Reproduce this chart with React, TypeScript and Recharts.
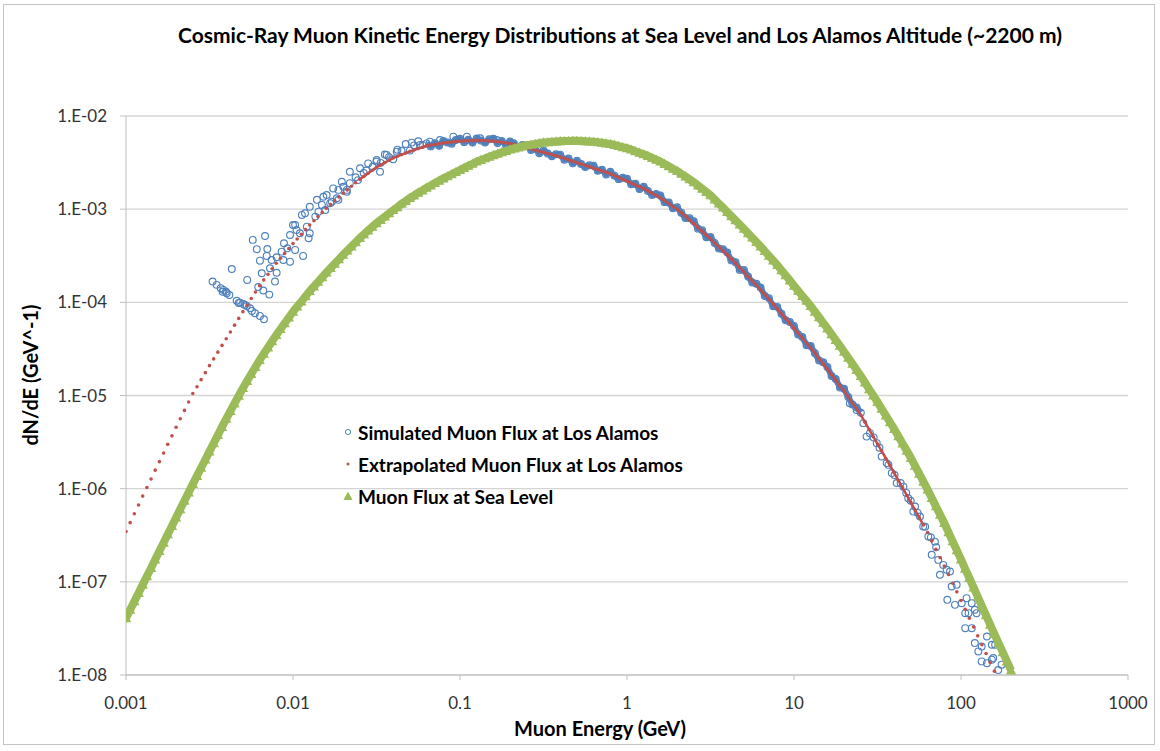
import React from 'react';
import { ScatterChart, Scatter, XAxis, YAxis, CartesianGrid } from 'recharts';

// log-spaced energy grid (GeV), shared by the extrapolated and sea-level series
const energyGrid = [
  0.001, 0.001059, 0.001122, 0.001189, 0.001259, 0.001334, 0.001413, 0.001496, 0.001585, 0.001679,
  0.001778, 0.001884, 0.001995, 0.002113, 0.002239, 0.002371, 0.002512, 0.002661, 0.002818, 0.002985,
  0.003162, 0.00335, 0.003548, 0.003758, 0.003981, 0.004217, 0.004467, 0.004732, 0.005012, 0.005309,
  0.005623, 0.005957, 0.00631, 0.006683, 0.007079, 0.007499, 0.007943, 0.008414, 0.008913, 0.009441,
  0.01, 0.01059, 0.01122, 0.01189, 0.01259, 0.01334, 0.01413, 0.01496, 0.01585, 0.01679,
  0.01778, 0.01884, 0.01995, 0.02113, 0.02239, 0.02371, 0.02512, 0.02661, 0.02818, 0.02985,
  0.03162, 0.0335, 0.03548, 0.03758, 0.03981, 0.04217, 0.04467, 0.04732, 0.05012, 0.05309,
  0.05623, 0.05957, 0.0631, 0.06683, 0.07079, 0.07499, 0.07943, 0.08414, 0.08913, 0.09441,
  0.1, 0.1059, 0.1122, 0.1189, 0.1259, 0.1334, 0.1413, 0.1496, 0.1585, 0.1679,
  0.1778, 0.1884, 0.1995, 0.2113, 0.2239, 0.2371, 0.2512, 0.2661, 0.2818, 0.2985,
  0.3162, 0.335, 0.3548, 0.3758, 0.3981, 0.4217, 0.4467, 0.4732, 0.5012, 0.5309,
  0.5623, 0.5957, 0.631, 0.6683, 0.7079, 0.7499, 0.7943, 0.8414, 0.8913, 0.9441,
  1, 1.059, 1.122, 1.189, 1.259, 1.334, 1.413, 1.496, 1.585, 1.679,
  1.778, 1.884, 1.995, 2.113, 2.239, 2.371, 2.512, 2.661, 2.818, 2.985,
  3.162, 3.35, 3.548, 3.758, 3.981, 4.217, 4.467, 4.732, 5.012, 5.309,
  5.623, 5.957, 6.31, 6.683, 7.079, 7.499, 7.943, 8.414, 8.913, 9.441,
  10, 10.59, 11.22, 11.89, 12.59, 13.34, 14.13, 14.96, 15.85, 16.79,
  17.78, 18.84, 19.95, 21.13, 22.39, 23.71, 25.12, 26.61, 28.18, 29.85,
  31.62, 33.5, 35.48, 37.58, 39.81, 42.17, 44.67, 47.32, 50.12, 53.09,
  56.23, 59.57, 63.1, 66.83, 70.79, 74.99, 79.43, 84.14, 89.13, 94.41,
  100, 105.9, 112.2, 118.9, 125.9, 133.4, 141.3, 149.6, 158.5, 167.9,
  177.8, 188.4, 199.5,
];

const extrapolatedFlux = [
  3.47e-7, 4.32e-7, 5.37e-7, 6.68e-7, 8.32e-7, 1.03e-6, 1.27e-6, 1.58e-6, 1.95e-6, 2.41e-6,
  2.99e-6, 3.69e-6, 4.57e-6, 5.62e-6, 6.92e-6, 8.51e-6, 1.05e-5, 1.24e-5, 1.48e-5, 1.76e-5,
  2.09e-5, 2.47e-5, 2.92e-5, 3.45e-5, 4.07e-5, 4.81e-5, 5.69e-5, 6.72e-5, 7.94e-5, 9.33e-5,
  1.1e-4, 1.29e-4, 1.51e-4, 1.74e-4, 2.0e-4, 2.29e-4, 2.63e-4, 2.97e-4, 3.35e-4, 3.78e-4,
  4.27e-4, 4.79e-4, 5.37e-4, 6.03e-4, 6.76e-4, 7.5e-4, 8.32e-4, 9.23e-4, 1.02e-3, 1.12e-3,
  1.23e-3, 1.35e-3, 1.48e-3, 1.61e-3, 1.76e-3, 1.92e-3, 2.09e-3, 2.25e-3, 2.43e-3, 2.62e-3,
  2.82e-3, 2.99e-3, 3.16e-3, 3.35e-3, 3.55e-3, 3.69e-3, 3.85e-3, 4.0e-3, 4.17e-3, 4.32e-3,
  4.47e-3, 4.62e-3, 4.79e-3, 4.87e-3, 4.95e-3, 5.04e-3, 5.13e-3, 5.19e-3, 5.25e-3, 5.31e-3,
  5.37e-3, 5.4e-3, 5.42e-3, 5.45e-3, 5.47e-3, 5.45e-3, 5.42e-3, 5.4e-3, 5.37e-3, 5.3e-3,
  5.22e-3, 5.14e-3, 5.07e-3, 4.94e-3, 4.81e-3, 4.69e-3, 4.57e-3, 4.44e-3, 4.32e-3, 4.19e-3,
  4.07e-3, 3.96e-3, 3.85e-3, 3.74e-3, 3.63e-3, 3.51e-3, 3.39e-3, 3.27e-3, 3.16e-3, 3.05e-3,
  2.95e-3, 2.85e-3, 2.75e-3, 2.66e-3, 2.57e-3, 2.48e-3, 2.4e-3, 2.29e-3, 2.19e-3, 2.09e-3,
  2.0e-3, 1.91e-3, 1.82e-3, 1.74e-3, 1.66e-3, 1.57e-3, 1.48e-3, 1.4e-3, 1.32e-3, 1.23e-3,
  1.15e-3, 1.07e-3, 1.0e-3, 9.14e-4, 8.37e-4, 7.66e-4, 7.0e-4, 6.37e-4, 5.79e-4, 5.26e-4,
  4.79e-4, 4.34e-4, 3.94e-4, 3.57e-4, 3.24e-4, 2.91e-4, 2.62e-4, 2.35e-4, 2.11e-4, 1.89e-4,
  1.7e-4, 1.52e-4, 1.36e-4, 1.21e-4, 1.08e-4, 9.57e-5, 8.51e-5, 7.54e-5, 6.68e-5, 5.92e-5,
  5.25e-5, 4.65e-5, 4.12e-5, 3.65e-5, 3.24e-5, 2.84e-5, 2.48e-5, 2.18e-5, 1.91e-5, 1.67e-5,
  1.46e-5, 1.28e-5, 1.12e-5, 9.66e-6, 8.32e-6, 7.16e-6, 6.17e-6, 5.16e-6, 4.32e-6, 3.61e-6,
  3.02e-6, 2.53e-6, 2.11e-6, 1.77e-6, 1.48e-6, 1.23e-6, 1.02e-6, 8.51e-7, 7.08e-7, 5.89e-7,
  4.9e-7, 4.07e-7, 3.39e-7, 2.75e-7, 2.24e-7, 1.82e-7, 1.48e-7, 1.2e-7, 9.66e-8, 7.81e-8,
  6.31e-8, 5.07e-8, 4.07e-8, 3.27e-8, 2.63e-8, 2.11e-8, 1.7e-8, 1.36e-8, 1.1e-8,
];

const seaLevelFlux = [
  4.07e-8, 5.01e-8, 6.17e-8, 7.59e-8, 9.33e-8, 1.15e-7, 1.41e-7, 1.74e-7, 2.14e-7, 2.63e-7,
  3.24e-7, 3.98e-7, 4.9e-7, 6.03e-7, 7.41e-7, 9.12e-7, 1.12e-6, 1.37e-6, 1.68e-6, 2.05e-6,
  2.51e-6, 3.07e-6, 3.76e-6, 4.6e-6, 5.62e-6, 6.8e-6, 8.22e-6, 9.94e-6, 1.2e-5, 1.43e-5,
  1.7e-5, 2.02e-5, 2.4e-5, 2.8e-5, 3.27e-5, 3.82e-5, 4.47e-5, 5.16e-5, 5.96e-5, 6.88e-5,
  7.94e-5, 9.02e-5, 1.02e-4, 1.16e-4, 1.32e-4, 1.48e-4, 1.66e-4, 1.86e-4, 2.09e-4, 2.33e-4,
  2.6e-4, 2.9e-4, 3.24e-4, 3.59e-4, 3.98e-4, 4.42e-4, 4.9e-4, 5.37e-4, 5.89e-4, 6.46e-4,
  7.08e-4, 7.67e-4, 8.32e-4, 9.02e-4, 9.77e-4, 1.05e-3, 1.14e-3, 1.22e-3, 1.32e-3, 1.4e-3,
  1.5e-3, 1.59e-3, 1.7e-3, 1.8e-3, 1.91e-3, 2.02e-3, 2.14e-3, 2.25e-3, 2.37e-3, 2.5e-3,
  2.63e-3, 2.77e-3, 2.92e-3, 3.07e-3, 3.24e-3, 3.37e-3, 3.51e-3, 3.65e-3, 3.8e-3, 3.94e-3,
  4.07e-3, 4.22e-3, 4.37e-3, 4.48e-3, 4.6e-3, 4.72e-3, 4.84e-3, 4.93e-3, 5.01e-3, 5.1e-3,
  5.19e-3, 5.24e-3, 5.28e-3, 5.32e-3, 5.37e-3, 5.38e-3, 5.4e-3, 5.42e-3, 5.43e-3, 5.4e-3,
  5.37e-3, 5.34e-3, 5.31e-3, 5.24e-3, 5.16e-3, 5.08e-3, 5.01e-3, 4.89e-3, 4.76e-3, 4.63e-3,
  4.52e-3, 4.36e-3, 4.19e-3, 4.04e-3, 3.89e-3, 3.72e-3, 3.55e-3, 3.39e-3, 3.24e-3, 3.05e-3,
  2.88e-3, 2.72e-3, 2.57e-3, 2.4e-3, 2.24e-3, 2.09e-3, 1.95e-3, 1.8e-3, 1.66e-3, 1.53e-3,
  1.41e-3, 1.27e-3, 1.15e-3, 1.04e-3, 9.33e-4, 8.41e-4, 7.59e-4, 6.84e-4, 6.17e-4, 5.53e-4,
  4.95e-4, 4.44e-4, 3.98e-4, 3.55e-4, 3.16e-4, 2.82e-4, 2.51e-4, 2.21e-4, 1.95e-4, 1.72e-4,
  1.51e-4, 1.33e-4, 1.17e-4, 1.04e-4, 9.12e-5, 7.94e-5, 6.92e-5, 6.03e-5, 5.25e-5, 4.54e-5,
  3.94e-5, 3.41e-5, 2.95e-5, 2.54e-5, 2.19e-5, 1.88e-5, 1.62e-5, 1.38e-5, 1.17e-5, 1.0e-5,
  8.51e-6, 7.2e-6, 6.1e-6, 5.16e-6, 4.37e-6, 3.65e-6, 3.05e-6, 2.56e-6, 2.14e-6, 1.76e-6,
  1.45e-6, 1.19e-6, 9.77e-7, 7.94e-7, 6.46e-7, 5.25e-7, 4.27e-7, 3.41e-7, 2.72e-7, 2.18e-7,
  1.74e-7, 1.38e-7, 1.1e-7, 8.71e-8, 6.92e-8, 5.5e-8, 4.37e-8, 3.47e-8, 2.75e-8, 2.2e-8,
  1.76e-8, 1.4e-8, 1.12e-8,
];

// simulated flux along the well-sampled part, at energyGrid[60..176]
const BAND_START = 60;
const simulatedBandFlux = [
  3.24e-3, 3.14e-3, 3.86e-3, 3.62e-3, 3.44e-3, 4.35e-3, 4.24e-3, 5.0e-3, 4.25e-3, 4.84e-3,
  5.36e-3, 4.9e-3, 5.08e-3, 4.72e-3, 5.1e-3, 4.79e-3, 5.39e-3, 5.19e-3, 5.04e-3, 5.52e-3,
  5.69e-3, 5.24e-3, 5.58e-3, 5.18e-3, 5.74e-3, 5.45e-3, 5.2e-3, 5.62e-3, 5.69e-3, 5.14e-3,
  5.38e-3, 4.88e-3, 5.32e-3, 4.94e-3, 4.62e-3, 4.88e-3, 4.84e-3, 4.31e-3, 4.45e-3, 3.98e-3,
  4.27e-3, 3.96e-3, 3.7e-3, 3.89e-3, 3.85e-3, 3.4e-3, 3.49e-3, 3.11e-3, 3.32e-3, 3.05e-3,
  2.83e-3, 2.96e-3, 2.92e-3, 2.58e-3, 2.65e-3, 2.36e-3, 2.52e-3, 2.29e-3, 2.1e-3, 2.17e-3,
  2.12e-3, 1.85e-3, 1.87e-3, 1.65e-3, 1.74e-3, 1.57e-3, 1.42e-3, 1.46e-3, 1.4e-3, 1.19e-3,
  1.18e-3, 1.02e-3, 1.05e-3, 9.14e-4, 8.04e-4, 7.97e-4, 7.42e-4, 6.18e-4, 5.96e-4, 5.0e-4,
  5.03e-4, 4.34e-4, 3.78e-4, 3.71e-4, 3.43e-4, 2.82e-4, 2.7e-4, 2.23e-4, 2.22e-4, 1.89e-4,
  1.63e-4, 1.58e-4, 1.44e-4, 1.17e-4, 1.11e-4, 9.09e-5, 8.94e-5, 7.54e-5, 6.41e-5, 6.16e-5,
  5.57e-5, 4.51e-5, 4.24e-5, 3.47e-5, 3.4e-5, 2.84e-5, 2.38e-5, 2.27e-5, 2.02e-5, 1.62e-5,
  1.5e-5, 1.22e-5, 1.18e-5, 9.66e-6, 7.99e-6, 7.45e-6, 6.54e-6,
];

// scattered simulated points at low and high energy
const simulatedEnergy = [
  0.0033, 0.00349, 0.00369, 0.00379, 0.00383, 0.00397, 0.00401, 0.00416, 0.0046, 0.00473,
  0.00482, 0.00504, 0.00516, 0.00528, 0.00553, 0.00568, 0.00592, 0.00634, 0.0067,
  0.0043, 0.00532, 0.00574, 0.0068, 0.00607, 0.00702, 0.00634, 0.00696, 0.00619, 0.00664,
  0.00721, 0.0065, 0.00728, 0.00798, 0.0078, 0.00745, 0.00798, 0.00855, 0.00883, 0.00925,
  0.0096, 0.0103, 0.0115, 0.00875,
  0.0096, 0.0103, 0.0105, 0.011, 0.0121, 0.0126, 0.0124, 0.01,
  0.0113, 0.0118, 0.0126, 0.0136, 0.0142, 0.0149, 0.0156, 0.0159, 0.0171, 0.0183,
  0.0187, 0.02, 0.021, 0.0219,
  0.0139, 0.0152, 0.0174, 0.0196, 0.0219, 0.0252, 0.0282, 0.0317, 0.0364, 0.0418,
  0.0514, 0.0576, 0.0661, 0.0759, 0.0912, 0.11, 0.132, 0.166, 0.209,
  0.0167, 0.0187, 0.021, 0.0332, 0.0237, 0.0245, 0.0265, 0.0275, 0.03,
  21.6, 23.7, 26.0, 28.5, 27.2, 31.3, 33.5, 35.9, 38.5, 41.2,
  45.2, 48.3, 53.1, 51.8, 56.8, 59.4, 63.7, 69.8, 66.8, 73.1,
  78.3, 74.8, 82.0, 85.9, 87.9, 94.2, 82.8, 92.0, 101, 108,
  116, 121, 106, 111, 124, 106, 116, 143, 121, 133,
  127, 153, 160, 133, 143, 153, 156, 175, 167,
  40.0, 43.5, 47.0, 50.0, 55.0, 61.0, 66.0, 71.0, 30.0, 32.5, 36.8,
];

const simulatedFlux = [
  1.67e-4, 1.54e-4, 1.42e-4, 1.3e-4, 1.36e-4, 1.3e-4, 1.25e-4, 1.2e-4, 1.04e-4, 9.86e-5,
  9.93e-5, 9.62e-5, 9.38e-5, 9.14e-5, 8.65e-5, 8.09e-5, 7.64e-5, 7.15e-5, 6.59e-5,
  2.28e-4, 1.74e-4, 4.68e-4, 5.15e-4, 3.72e-4, 3.74e-4, 2.8e-4, 3.15e-4, 1.46e-4, 1.34e-4,
  1.21e-4, 2.05e-4, 2.32e-4, 2.08e-4, 1.67e-4, 2.85e-4, 3.05e-4, 3.5e-4, 4.31e-4, 3.8e-4,
  2.73e-4, 3.65e-4, 3.15e-4, 2.85e-4,
  5.28e-4, 6.76e-4, 5.98e-4, 5.51e-4, 6.49e-4, 5.51e-4, 4.88e-4, 6.76e-4,
  8.67e-4, 9.04e-4, 1.06e-3, 8.32e-4, 9.4e-4, 1.11e-3, 9.8e-4, 1.42e-3, 1.2e-3, 1.31e-3,
  1.61e-3, 1.74e-3, 1.54e-3, 1.9e-3,
  1.26e-3, 1.36e-3, 1.67e-3, 1.97e-3, 2.52e-3, 2.75e-3, 3.1e-3, 3.37e-3, 3.82e-3, 4.14e-3,
  5.18e-3, 4.89e-3, 5.3e-3, 5.52e-3, 6.0e-3, 6.0e-3, 5.77e-3, 5.52e-3, 5.09e-3,
  1.16e-3, 1.26e-3, 1.61e-3, 2.52e-3, 2.2e-3, 2.05e-3, 2.45e-3, 2.6e-3, 2.85e-3,
  8.26e-6, 7.0e-6, 5.05e-6, 3.94e-6, 3.62e-6, 3.08e-6, 2.21e-6, 1.88e-6, 1.47e-6, 1.15e-6,
  1.05e-6, 7.91e-7, 6.43e-7, 5.68e-7, 5.02e-7, 3.92e-7, 3.06e-7, 2.7e-7, 1.95e-7, 1.72e-7,
  1.52e-7, 1.19e-7, 1.35e-7, 1.29e-7, 8.91e-8, 9.29e-8, 6.41e-8, 5.66e-8, 5.9e-8, 6.68e-8,
  5.9e-8, 5.01e-8, 4.61e-8, 4.61e-8, 4.61e-8, 3.18e-8, 3.18e-8, 2.59e-8, 2.2e-8, 2.02e-8,
  1.79e-8, 2.11e-8, 2.11e-8, 1.4e-8, 1.34e-8, 1.46e-8, 1.52e-8, 1.29e-8, 1.13e-8,
  1.4e-6, 1.15e-6, 9.0e-7, 7.4e-7, 5.5e-7, 3.9e-7, 3.0e-7, 2.35e-7, 3.55e-6, 2.75e-6, 1.8e-6,
];

const xTicks = [0.001, 0.01, 0.1, 1, 10, 100, 1000];
const yTicks = [1e-8, 1e-7, 1e-6, 1e-5, 1e-4, 1e-3, 1e-2];

const BLUE = '#4F81BD';
const RED = '#C0504D';
const GREEN = '#9BBB59';
const FONT = 'Lato, "Open Sans", sans-serif';

const bandData = simulatedBandFlux.map((y, i) => ({ x: energyGrid[BAND_START + i], y }));
const simulatedData = [...bandData, ...simulatedFlux.map((y, i) => ({ x: simulatedEnergy[i], y }))];
const extrapolatedData = extrapolatedFlux.map((y, i) => ({ x: energyGrid[i], y }));
const seaLevelData = seaLevelFlux.map((y, i) => ({ x: energyGrid[i], y }));

// the densely sampled stretches read as continuous bands in the original
const bandTrace = bandData.slice(12);
const extrapolatedTrace = extrapolatedData.slice(56, 192);

const formatY = (v: number) => {
  const e = Math.round(Math.log10(v));
  return `1.E${e < 0 ? '-' : '+'}${String(Math.abs(e)).padStart(2, '0')}`;
};

const OpenCircle = (p: any) => (
  <circle cx={p.cx} cy={p.cy} r={3.4} fill="none" stroke={BLUE} strokeWidth={1.15} />
);
const RedDot = (p: any) => <circle cx={p.cx} cy={p.cy} r={1.8} fill={RED} />;
const Triangle = (p: any) => (
  <path
    d={`M${p.cx},${p.cy - 5.2}L${p.cx + 5.2},${p.cy + 4}L${p.cx - 5.2},${p.cy + 4}Z`}
    fill={GREEN}
  />
);
const NoMark = () => <g />;

const legendItems = [
  { label: 'Simulated Muon Flux at Los Alamos', kind: 'circle' },
  { label: 'Extrapolated Muon Flux at Los Alamos', kind: 'dot' },
  { label: 'Muon Flux at Sea Level', kind: 'triangle' },
];

function LegendMarker({ kind }: { kind: string }) {
  return (
    <svg width={12} height={12} style={{ marginRight: 4 }}>
      {kind === 'circle' && <circle cx={6} cy={6} r={2.6} fill="none" stroke={BLUE} strokeWidth={1} />}
      {kind === 'dot' && <circle cx={6} cy={6} r={1.5} fill={RED} />}
      {kind === 'triangle' && <path d="M6,1.5L10.5,10L1.5,10Z" fill={GREEN} />}
    </svg>
  );
}

export default function App() {
  return (
    <div
      style={{
        position: 'absolute',
        left: 0,
        top: 0,
        width: 1160,
        height: 751,
        background: '#fff',
        fontFamily: FONT,
        color: '#000',
      }}
    >
      <div
        style={{
          position: 'absolute',
          left: 3,
          top: 4,
          width: 1152,
          height: 741,
          border: '1px solid #c4c4c4',
          boxSizing: 'border-box',
        }}
      />
      <ScatterChart width={1160} height={751} margin={{ top: 116, right: 32, bottom: 46, left: 46 }}>
        <CartesianGrid vertical={false} stroke="#d4d4d4" strokeWidth={1.3} />
        <XAxis
          type="number"
          dataKey="x"
          scale="log"
          domain={[0.001, 1000]}
          ticks={xTicks}
          interval={0}
          allowDataOverflow
          height={30}
          stroke="#bfbfbf"
          tickSize={5}
          tickMargin={17}
          tick={{ fill: '#333', fontSize: 17 }}
          tickFormatter={(v: number) => String(v)}
        />
        <YAxis
          type="number"
          dataKey="y"
          scale="log"
          domain={[1e-8, 1e-2]}
          ticks={yTicks}
          interval={0}
          allowDataOverflow
          width={80}
          stroke="#bfbfbf"
          tickSize={6}
          tickMargin={13}
          tick={{ fill: '#333', fontSize: 17 }}
          tickFormatter={formatY}
        />
        <Scatter data={bandTrace} shape={NoMark} line={{ stroke: BLUE, strokeWidth: 6 }} isAnimationActive={false} />
        <Scatter data={simulatedData} shape={OpenCircle} isAnimationActive={false} />
        <Scatter data={extrapolatedTrace} shape={NoMark} line={{ stroke: RED, strokeWidth: 2.5 }} isAnimationActive={false} />
        <Scatter data={extrapolatedData} shape={RedDot} isAnimationActive={false} />
        <Scatter data={seaLevelData} shape={Triangle} line={{ stroke: GREEN, strokeWidth: 8 }} isAnimationActive={false} />
      </ScatterChart>

      <div
        style={{
          position: 'absolute',
          left: 620,
          top: 34,
          transform: 'translate(-50%, -50%)',
          whiteSpace: 'nowrap',
          fontSize: 21,
          fontWeight: 700,
        }}
      >
        Cosmic-Ray Muon Kinetic Energy Distributions at Sea Level and Los Alamos Altitude (~2200 m)
      </div>
      <div
        style={{
          position: 'absolute',
          left: 600,
          top: 728,
          transform: 'translate(-50%, -50%)',
          whiteSpace: 'nowrap',
          fontSize: 20,
          fontWeight: 700,
        }}
      >
        Muon Energy (GeV)
      </div>
      <div
        style={{
          position: 'absolute',
          left: 30,
          top: 375,
          transform: 'translate(-50%, -50%) rotate(-90deg)',
          whiteSpace: 'nowrap',
          fontSize: 20,
          fontWeight: 700,
        }}
      >
        dN/dE (GeV^-1)
      </div>

      <div style={{ position: 'absolute', left: 342, top: 416 }}>
        {legendItems.map((item) => (
          <div
            key={item.label}
            style={{ display: 'flex', alignItems: 'center', height: 32, fontSize: 19, fontWeight: 700 }}
          >
            <LegendMarker kind={item.kind} />
            <span>{item.label}</span>
          </div>
        ))}
      </div>
    </div>
  );
}
